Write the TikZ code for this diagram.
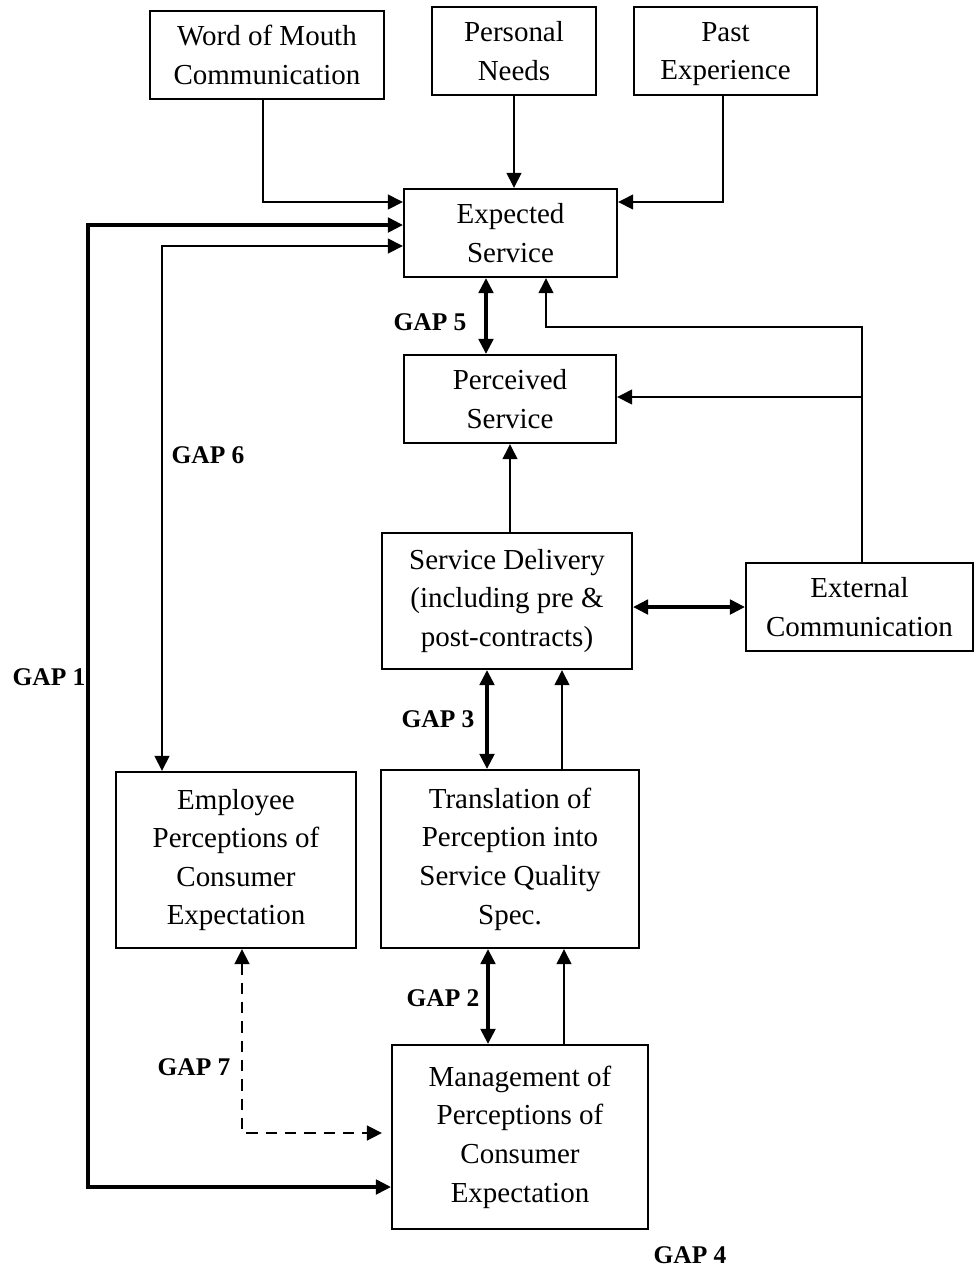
\documentclass[tikz,border=0pt]{standalone}
\usepackage{fontspec}
\setmainfont{Liberation Serif}
\usetikzlibrary{arrows.meta}
\tikzset{
  box/.style={draw, line width=1.2pt, align=center, inner sep=0pt, font=\fontsize{16.5}{22}\selectfont},
  gap/.style={font=\fontsize{14.5}{17}\selectfont\bfseries},
  arr/.style={-{Triangle[length=0.3cm,width=0.29cm]}, line width=1.3pt},
  arrs/.style={{Triangle[length=0.3cm,width=0.29cm]}-{Triangle[length=0.3cm,width=0.29cm]}, line width=1.3pt},
  heavy/.style={line width=1.9pt},
}
\begin{document}
\begin{tikzpicture}[x=0.02cm, y=-0.02cm]
      \useasboundingbox (0,0) rectangle (974,1272);
      \node[box, minimum width=4.68cm, minimum height=1.76cm] (wom) at (267,55) {Word of Mouth\\Communication};
      \node[box, minimum width=3.28cm, minimum height=1.76cm] (needs) at (514,51) {Personal\\Needs};
      \node[box, minimum width=3.66cm, minimum height=1.76cm] (past) at (725.5,51) {Past\\\smash{Experience}};
      \node[box, minimum width=4.26cm, minimum height=1.76cm] (expected) at (510.5,233) {Expected\\Service};
      \node[box, minimum width=4.24cm, minimum height=1.76cm] (perceived) at (510,399) {Perceived\\Service};
      \node[box, minimum width=5.00cm, minimum height=2.72cm] (delivery) at (507,601) {Service Delivery\\(including pre \&\\post-contracts)};
      \node[box, minimum width=4.54cm, minimum height=1.76cm] (external) at (859.5,607) {External\\Communication};
      \node[box, minimum width=4.80cm, minimum height=3.52cm] (employee) at (236,860) {Employee\\Perceptions of\\Consumer\\Expectation};
      \node[box, minimum width=5.16cm, minimum height=3.56cm] (translation) at (510,859) {Translation of\\Perception into\\Service Quality\\Spec.};
      \node[box, minimum width=5.12cm, minimum height=3.68cm] (management) at (520,1137) {Management of\\Perceptions of\\Consumer\\Expectation};
      \coordinate (tap) at (862,397);
      \coordinate (bend) at (862,327);
      \node[gap] (gap5) at (430,322) {GAP 5};
      \node[gap] (gap6) at (208,455) {GAP 6};
      \node[gap] (gap1) at (49,677) {GAP 1};
      \node[gap] (gap3) at (438,719) {GAP 3};
      \node[gap] (gap2) at (443,998) {GAP 2};
      \node[gap] (gap7) at (194,1067) {GAP 7};
      \node[gap] (gap4) at (690,1255) {GAP 4};
      \begin{scope}[arr]
        \draw (wom.south -| 263,0) |- (expected.west |- 0,202);
        \draw (needs.south) -- (needs.south |- expected.north);
        \draw (past.south -| 723,0) |- (expected.east |- 0,202);
        \draw (external.north -| bend) -- (bend) -| (expected.south -| 546,0);
        \draw (tap) -- (perceived.east |- tap);
        \draw (delivery.north -| 510,0) -- (perceived.south -| 510,0);
        \draw (translation.north -| 562,0) -- (delivery.south -| 562,0);
        \draw (management.north -| 564,0) -- (translation.south -| 564,0);
      \end{scope}
      \begin{scope}[arrs]
        \draw[heavy] (expected.west |- 0,225) -- (88,225) -- (88,1187) -- (management.west |- 0,1187);
        \draw (expected.west |- 0,246) -| (employee.north -| 162,0);
        \draw[heavy] (expected.south -| 486,0) -- (perceived.north -| 486,0);
        \draw[heavy] (delivery.east |- 0,607) -- (external.west |- 0,607);
        \draw[heavy] (delivery.south -| 487,0) -- (translation.north -| 487,0);
        \draw[heavy] (translation.south -| 488,0) -- (management.north -| 488,0);
        \draw[line width=1.6pt, dash pattern=on 6.5pt off 4.5pt, shorten >=0.18cm] (employee.south -| 242,0) |- (management.west |- 0,1133);
      \end{scope}
    \end{tikzpicture}
\end{document}
